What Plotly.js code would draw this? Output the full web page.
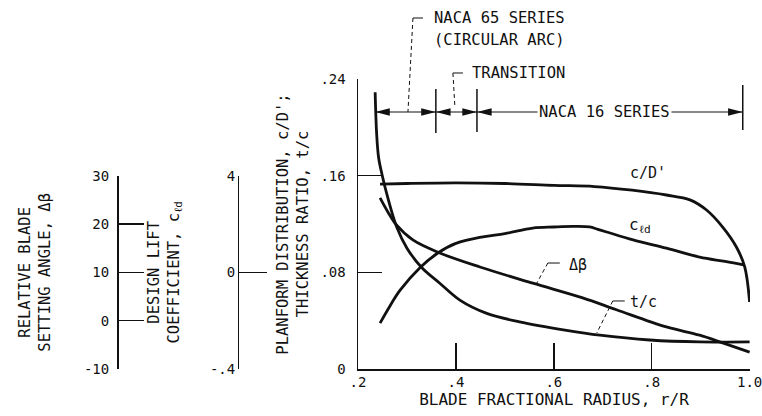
<!DOCTYPE html>
<html><head><meta charset="utf-8">
<script src="https://cdn.plot.ly/plotly-3.0.1.min.js"></script>
<style>html,body{margin:0;padding:0;background:#fff}#chart{width:762px;height:416px}</style>
</head><body><div id="chart"></div>
<script>
// ---- data ----
const radiusTc = [0.235, 0.238, 0.242, 0.249, 0.26, 0.279, 0.30, 0.33, 0.367, 0.408, 0.463, 0.53, 0.626, 0.694, 0.796, 0.898, 1.0];
const thicknessRatio = [0.229, 0.195, 0.175, 0.161, 0.143, 0.1175, 0.100, 0.084, 0.071, 0.057, 0.046, 0.039, 0.032, 0.028, 0.024, 0.0224, 0.0224];

const radiusCd = [0.245, 0.30, 0.40, 0.50, 0.60, 0.683, 0.76, 0.83, 0.878, 0.912, 0.945, 0.973, 0.99, 1.0];
const planform = [0.153, 0.1535, 0.154, 0.1535, 0.152, 0.151, 0.148, 0.144, 0.140, 0.1316, 0.1175, 0.101, 0.0845, 0.0555];

const radiusBeta = [0.245, 0.261, 0.279, 0.312, 0.367, 0.449, 0.557, 0.659, 0.728, 0.83, 0.898, 0.945, 1.0];
const bladeAngle = [25.4, 22.5, 19.75, 16.7, 14.0, 11.1, 7.75, 4.7, 2.25, -1.3, -3.0, -4.6, -6.5];

const radiusCl = [0.245, 0.265, 0.286, 0.327, 0.363, 0.40, 0.455, 0.50, 0.557, 0.60, 0.639, 0.673, 0.69, 0.708, 0.762, 0.83, 0.898, 0.95, 0.99];
const liftCoef = [-0.21, -0.14, -0.074, 0.02, 0.08, 0.12, 0.147, 0.16, 0.183, 0.1875, 0.19, 0.188, 0.178, 0.167, 0.134, 0.10, 0.063, 0.045, 0.03];

const xTickVals = [0.2, 0.4, 0.6, 0.8, 1.0];
const xTickText = ['.2', '.4', '.6', '.8', '1.0'];
const mainTickVals = [0, 0.08, 0.16, 0.24];
const mainTickText = ['0', '.08', '.16', '.24'];
const betaTickVals = [-10, 0, 10, 20, 30];
const betaTickText = ['-10', '0', '10', '20', '30'];
const clTickVals = [-0.4, 0, 0.4];
const clTickText = ['-.4', '0', '4'];

const sectionBounds = [0.235, 0.359, 0.443, 0.986];
const sectionNames = ['NACA 65 SERIES', '(CIRCULAR ARC)', 'TRANSITION', 'NACA 16 SERIES'];

// ---- styling ----
const FONT = '"DejaVu Sans Mono", monospace';
const INK = '#111';
const lineStyle = {color: INK, width: 2.8, shape: 'spline', smoothing: 1};

const traces = [
  {x: radiusCd, y: planform, xaxis: 'x', yaxis: 'y', mode: 'lines', line: lineStyle, name: "c/D'", hoverinfo: 'skip'},
  {x: radiusTc, y: thicknessRatio, xaxis: 'x', yaxis: 'y', mode: 'lines', line: lineStyle, name: 't/c', hoverinfo: 'skip'},
  {x: radiusBeta, y: bladeAngle, xaxis: 'x', yaxis: 'y2', mode: 'lines', line: lineStyle, name: 'Δβ', hoverinfo: 'skip'},
  {x: radiusCl, y: liftCoef, xaxis: 'x', yaxis: 'y3', mode: 'lines', line: lineStyle, name: 'cld', hoverinfo: 'skip'}
];

const axisCommon = {showgrid: false, zeroline: false, showline: true, linecolor: INK, linewidth: 1.5,
  ticks: 'inside', tickcolor: INK, tickwidth: 1.5, tickmode: 'array', ticklabeloverflow: 'allow',
  tickfont: {family: FONT, size: 14, color: INK}};
const titleFont = {family: FONT, size: 15.5, color: INK};

const arrowY = 0.2127;
const headLen = 0.03, headHalf = 0.0031;
const dash = {color: INK, width: 1, dash: '4px,3px'};
const solid = {color: INK, width: 1};

const shapes = [
  // section boundary bars
  {type: 'line', xref: 'x', yref: 'y', x0: sectionBounds[1], x1: sectionBounds[1], y0: 0.1953, y1: 0.2317, line: {color: INK, width: 1.5}},
  {type: 'line', xref: 'x', yref: 'y', x0: sectionBounds[2], x1: sectionBounds[2], y0: 0.1961, y1: 0.2317, line: {color: INK, width: 1.5}},
  {type: 'line', xref: 'x', yref: 'y', x0: sectionBounds[3], x1: sectionBounds[3], y0: 0.1978, y1: 0.2350, line: {color: INK, width: 1.5}},
  // NACA 65 leader
  {type: 'line', xref: 'x', yref: 'paper', x0: 0.3122, x1: 0.3327, y0: 1.2103, y1: 1.2103, line: solid},
  {type: 'line', xref: 'x', yref: 'paper', x0: 0.3122, x1: 0.3020, y0: 1.2103, y1: 0.886, line: dash},
  // transition leader
  {type: 'line', xref: 'x', yref: 'paper', x0: 0.3939, x1: 0.4143, y0: 1.0207, y1: 1.0207, line: solid},
  {type: 'line', xref: 'x', yref: 'paper', x0: 0.3939, x1: 0.3980, y0: 1.0207, y1: 0.90, line: dash},
  // Δβ leader
  {type: 'line', xref: 'x', yref: 'y', x0: 0.5878, x1: 0.6122, y0: 0.0877, y1: 0.0877, line: solid},
  {type: 'line', xref: 'x', yref: 'y', x0: 0.5878, x1: 0.5653, y0: 0.0877, y1: 0.0712, line: dash},
  // t/c leader
  {type: 'line', xref: 'x', yref: 'y', x0: 0.7204, x1: 0.7449, y0: 0.0563, y1: 0.0563, line: solid},
  {type: 'line', xref: 'x', yref: 'y', x0: 0.7204, x1: 0.6878, y0: 0.0563, y1: 0.0298, line: dash}
];
// double-headed dimension arrows between section bounds
for (let i = 0; i < 3; i++) {
  const a = sectionBounds[i], b = sectionBounds[i + 1];
  shapes.push({type: 'line', xref: 'x', yref: 'y', x0: a, x1: b, y0: arrowY, y1: arrowY, line: {color: INK, width: 1.2}});
  shapes.push({type: 'path', xref: 'x', yref: 'y', line: {width: 0}, fillcolor: INK,
    path: `M ${a},${arrowY} L ${a + headLen},${arrowY + headHalf} L ${a + headLen},${arrowY - headHalf} Z`});
  shapes.push({type: 'path', xref: 'x', yref: 'y', line: {width: 0}, fillcolor: INK,
    path: `M ${b},${arrowY} L ${b - headLen},${arrowY + headHalf} L ${b - headLen},${arrowY - headHalf} Z`});
}

const annFont = {family: FONT, size: 15.5, color: INK};
const labFont = {family: FONT, size: 15, color: INK};

const layout = {
  width: 762, height: 416,
  margin: {l: 10, r: 12, t: 79, b: 47},
  paper_bgcolor: '#fff', plot_bgcolor: 'rgba(0,0,0,0)',
  showlegend: false,
  font: {family: FONT, color: INK, size: 15},
  xaxis: Object.assign({}, axisCommon, {
    domain: [0.4703, 1], range: [0.2, 1.0008], anchor: 'y',
    tickvals: xTickVals, ticktext: xTickText, ticklen: 26,
    title: {text: 'BLADE FRACTIONAL RADIUS, r/R', font: {family: FONT, size: 16, color: INK}, standoff: 4}
  }),
  yaxis: Object.assign({}, axisCommon, {
    domain: [0, 1], range: [0, 0.24], anchor: 'x',
    tickvals: mainTickVals, ticktext: mainTickText, ticklen: 24, ticklabelstandoff: 8,
    title: {text: "PLANFORM DISTRIBUTION, c/D';<br>THICKNESS RATIO, t/c", font: titleFont, standoff: 8}
  }),
  yaxis2: Object.assign({}, axisCommon, {
    domain: [0, 0.6667], range: [-10, 30], anchor: 'free', position: 0.1446, side: 'left',
    tickvals: betaTickVals, ticktext: betaTickText, ticklen: 25, ticklabelstandoff: 5,
    title: {text: 'RELATIVE BLADE<br>SETTING ANGLE, Δβ', font: titleFont, standoff: 28}
  }),
  yaxis3: Object.assign({}, axisCommon, {
    domain: [0, 0.6667], range: [-0.4, 0.4], anchor: 'free', position: 0.3081, side: 'left',
    tickvals: clTickVals, ticktext: clTickText, ticklen: 28, ticklabelstandoff: 0,
    title: {text: 'DESIGN LIFT<br>COEFFICIENT, c<sub>ℓd</sub>', font: titleFont, standoff: 25}
  }),
  shapes: shapes,
  annotations: [
    // section labels
    {xref: 'x', yref: 'paper', x: 0.351, y: 1.2103, text: sectionNames[0], showarrow: false, xanchor: 'left', yanchor: 'middle', font: annFont},
    {xref: 'x', yref: 'paper', x: 0.351, y: 1.134, text: sectionNames[1], showarrow: false, xanchor: 'left', yanchor: 'middle', font: annFont},
    {xref: 'x', yref: 'paper', x: 0.4286, y: 1.0207, text: sectionNames[2], showarrow: false, xanchor: 'left', yanchor: 'middle', font: annFont},
    {xref: 'x', yref: 'y', x: 0.704, y: arrowY, text: sectionNames[3], showarrow: false, xanchor: 'center', yanchor: 'middle', bgcolor: '#fff', borderpad: 1, font: annFont},
    // curve labels
    {xref: 'x', yref: 'y', x: 0.751, y: 0.1622, text: "c/D'", showarrow: false, xanchor: 'left', yanchor: 'middle', font: labFont},
    {xref: 'x', yref: 'y', x: 0.749, y: 0.119, text: 'c<sub>ℓd</sub>', showarrow: false, xanchor: 'left', yanchor: 'middle', font: {family: FONT, size: 16, color: INK}},
    {xref: 'x', yref: 'y', x: 0.6265, y: 0.086, text: 'Δβ', showarrow: false, xanchor: 'left', yanchor: 'middle', font: labFont},
    {xref: 'x', yref: 'y', x: 0.751, y: 0.0555, text: 't/c', showarrow: false, xanchor: 'left', yanchor: 'middle', font: labFont}
  ]
};

Plotly.newPlot('chart', traces, layout, {staticPlot: true, displayModeBar: false});
</script>
</body></html>
